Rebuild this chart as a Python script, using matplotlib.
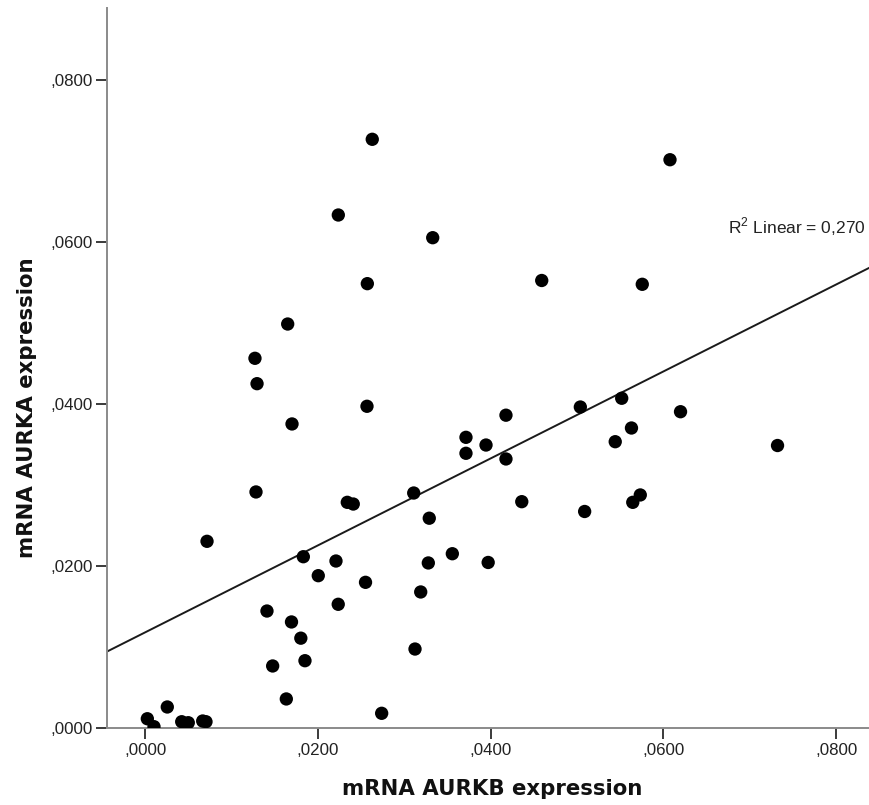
import numpy as np
import matplotlib.pyplot as plt
from matplotlib.ticker import FuncFormatter

# expression values (AURKB on x, AURKA on y)
aurkb = [0.00026, 0.00103, 0.00257, 0.00424, 0.00500, 0.00667, 0.00705, 0.00717,
         0.01272, 0.01296, 0.01284, 0.01411, 0.01477, 0.01635, 0.01695, 0.01701,
         0.01651, 0.01803, 0.01851, 0.01832, 0.02005, 0.02237, 0.02210, 0.02236,
         0.02341, 0.02410, 0.02552, 0.02573, 0.02569, 0.02630, 0.02739, 0.03110,
         0.03125, 0.03191, 0.03290, 0.03279, 0.03330, 0.03557, 0.03715, 0.03715,
         0.03947, 0.03972, 0.04178, 0.04178, 0.04361, 0.04592, 0.05039, 0.05089,
         0.05443, 0.05518, 0.05631, 0.05646, 0.05733, 0.05756, 0.06077, 0.06199,
         0.07322]
aurka = [0.00118, 0.00020, 0.00263, 0.00081, 0.00069, 0.00090, 0.00081, 0.02307,
         0.04565, 0.04252, 0.02916, 0.01447, 0.00769, 0.00362, 0.01312, 0.03755,
         0.04988, 0.01112, 0.00834, 0.02117, 0.01883, 0.06333, 0.02064, 0.01530,
         0.02788, 0.02767, 0.01801, 0.05486, 0.03973, 0.07267, 0.00185, 0.02903,
         0.00978, 0.01682, 0.02592, 0.02040, 0.06053, 0.02154, 0.03590, 0.03393,
         0.03495, 0.02046, 0.03863, 0.03323, 0.02796, 0.05525, 0.03964, 0.02675,
         0.03536, 0.04072, 0.03705, 0.02788, 0.02879, 0.05478, 0.07015, 0.03906,
         0.03489]
r2_text = 'R$^{\\mathrm{2}}$ Linear = 0,270'

x_lim = (-0.00441, 0.08381)
y_lim = (0.0, 0.08887)
ticks = [0.0, 0.02, 0.04, 0.06, 0.08]

plt.rcParams['font.family'] = ['Liberation Sans', 'DejaVu Sans']
plt.rcParams['mathtext.fontset'] = 'custom'
plt.rcParams['mathtext.rm'] = 'Liberation Sans'


def spss_fmt(v, pos):
    # ,0200 style labels
    s = '{:.4f}'.format(abs(v))
    return s.replace('0.', ',', 1)


fig = plt.figure(figsize=(8.69, 8.05), dpi=100)
ax = fig.add_axes([107 / 869, (805 - 728.3) / 805, 762 / 869, 720.3 / 805])

x = np.array(aurkb)
y = np.array(aurka)
ax.scatter(x, y, s=92, color='black', edgecolors='none', zorder=3)

# least squares fit line across the whole x range
slope, intercept = np.polyfit(x, y, 1)
xs = np.array(x_lim)
ax.plot(xs, intercept + slope * xs, color='#1a1a1a', lw=1.4, zorder=2)

ax.set_xlim(*x_lim)
ax.set_ylim(*y_lim)
ax.set_xticks(ticks)
ax.set_yticks(ticks)
ax.xaxis.set_major_formatter(FuncFormatter(spss_fmt))
ax.yaxis.set_major_formatter(FuncFormatter(spss_fmt))

for side in ['top', 'right']:
    ax.spines[side].set_visible(False)
for side in ['left', 'bottom']:
    ax.spines[side].set_color('#8a8a8a')
    ax.spines[side].set_linewidth(1.4)
ax.tick_params(direction='out', length=8, width=1.4, color='#3a3a3a',
               labelsize=12.2, labelcolor='#222222', pad=2.5)

ax.set_xlabel('mRNA AURKB expression', fontsize=15.3, fontweight='bold',
              family='DejaVu Sans', color='#111111')
ax.set_ylabel('mRNA AURKA expression', fontsize=15.3, fontweight='bold',
              family='DejaVu Sans', color='#111111')
ax.xaxis.set_label_coords(0.505, -0.070)
ax.yaxis.set_label_coords(-0.092, 0.445)

ax.text(727.7 / 869, (805 - 227) / 805, r2_text, transform=fig.transFigure,
        fontsize=12.5, color='#222222', ha='left', va='center')

fig.savefig('out.png', dpi=100)
